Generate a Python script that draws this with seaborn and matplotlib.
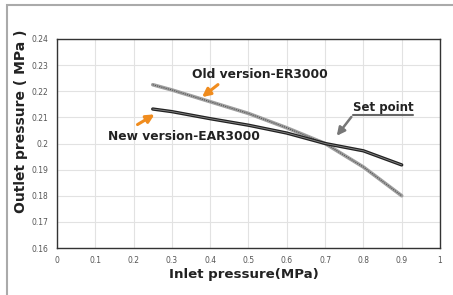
import matplotlib
matplotlib.use("Agg")
import matplotlib.pyplot as plt
import seaborn as sns
import pandas as pd
from matplotlib.patches import Rectangle

inlet = [0.25, 0.3, 0.4, 0.5, 0.6, 0.7, 0.8, 0.9]
old_er3000 = [0.2225, 0.2205, 0.2160, 0.2115, 0.2060, 0.2000, 0.1910, 0.1800]
new_ear3000 = [0.2132, 0.2122, 0.2095, 0.2070, 0.2040, 0.2000, 0.1972, 0.1918]
x_ticks = [0, 0.1, 0.2, 0.3, 0.4, 0.5, 0.6, 0.7, 0.8, 0.9, 1]
y_ticks = [0.16, 0.17, 0.18, 0.19, 0.2, 0.21, 0.22, 0.23, 0.24]

df = pd.DataFrame({"inlet": inlet + inlet,
                   "outlet": old_er3000 + new_ear3000,
                   "series": ["Old version-ER3000"] * len(inlet) + ["New version-EAR3000"] * len(inlet)})

sns.set_theme(style="white")
plt.rcParams['font.family'] = ['DejaVu Sans']

fig = plt.figure(figsize=(4.53, 2.95), dpi=100)
ax = fig.add_axes([0.1258, 0.1593, 0.8455, 0.7085])

old = df[df.series == "Old version-ER3000"]
new = df[df.series == "New version-EAR3000"]
sns.lineplot(data=old, x="inlet", y="outlet", color="#a0a0a0", lw=2.6, ax=ax, legend=False)
sns.lineplot(data=old, x="inlet", y="outlet", color="#555555", lw=0.8, ls=(0, (1, 1)), ax=ax, legend=False)
sns.lineplot(data=new, x="inlet", y="outlet", color="#222222", lw=2.4, ax=ax, legend=False)
sns.lineplot(data=new, x="inlet", y="outlet", color="#888888", lw=0.6, ax=ax, legend=False)

ax.set_xlim(0, 1)
ax.set_ylim(0.16, 0.24)
ax.set_xticks(x_ticks)
ax.set_yticks(y_ticks)
ax.set_xticklabels([f"{v:g}" for v in x_ticks])
ax.set_yticklabels([f"{v:g}" for v in y_ticks])
ax.tick_params(axis="both", labelsize=5.5, colors="#555555", length=0, pad=6)
ax.grid(True, color="#e2e2e2", lw=0.8)
for s in ax.spines.values():
    s.set_color("#333333")
    s.set_linewidth(1.0)

ax.set_xlabel("Inlet pressure(MPa)", fontsize=9.6, fontweight="bold", color="#222222")
ax.xaxis.set_label_coords(0.488, -0.095)
ax.set_ylabel("Outlet pressure ( MPa )", fontsize=10, fontweight="bold", color="#222222")
ax.yaxis.set_label_coords(-0.076, 0.608)

ax.text(0.352, 0.2263, "Old version-ER3000", fontsize=8.8, fontweight="bold", color="#222222", va="center")
ax.text(0.133, 0.2025, "New version-EAR3000", fontsize=8.8, fontweight="bold", color="#222222", va="center")
ax.text(0.773, 0.2136, "Set point", fontsize=8.5, fontweight="bold", color="#222222", va="center")
ax.plot([0.773, 0.93], [0.2110, 0.2110], color="#666666", lw=1.5)

ax.annotate("", xy=(0.373, 0.2171), xytext=(0.426, 0.2232),
            arrowprops=dict(arrowstyle="-|>", color="#f08c1e", lw=2.2, mutation_scale=12))
ax.annotate("", xy=(0.261, 0.2117), xytext=(0.204, 0.2067),
            arrowprops=dict(arrowstyle="-|>", color="#f08c1e", lw=2.2, mutation_scale=12))
ax.annotate("", xy=(0.726, 0.2021), xytext=(0.773, 0.2110),
            arrowprops=dict(arrowstyle="-|>", color="#777777", lw=1.8, mutation_scale=12))

fig.patches.append(Rectangle((7 / 453, -0.1), 1.2, (290 / 295) + 0.1, transform=fig.transFigure,
                             fill=False, edgecolor="#aaaaaa", lw=1.5))

fig.savefig("out.png", dpi=100)
